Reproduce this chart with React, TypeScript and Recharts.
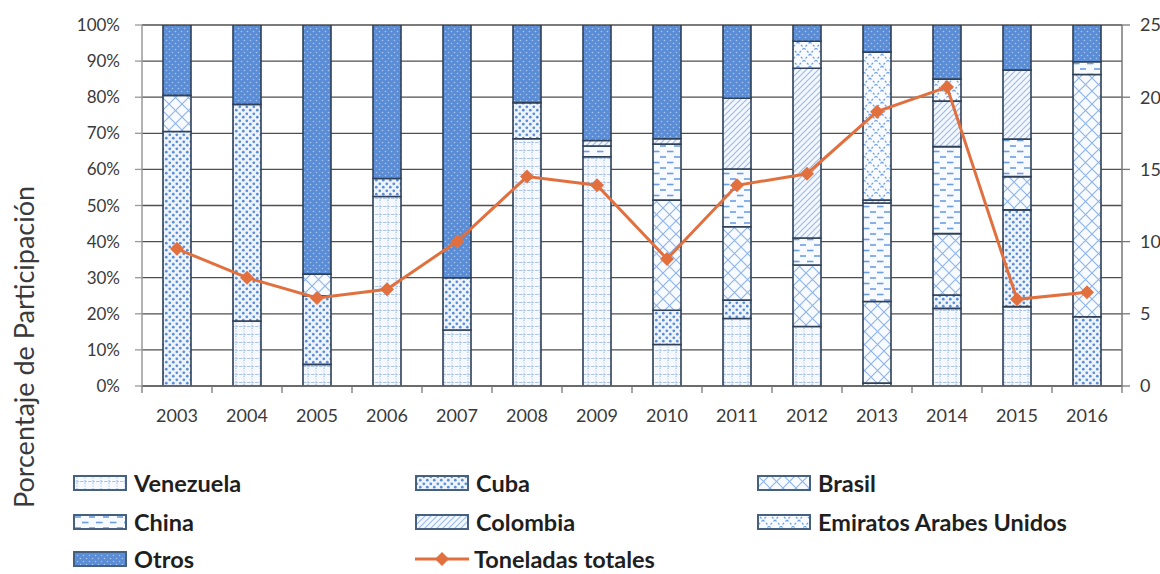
import React from "react";
import { Bar, CartesianGrid, ComposedChart, Line, XAxis, YAxis } from "recharts";

const YEARS = ["2003", "2004", "2005", "2006", "2007", "2008", "2009", "2010", "2011", "2012", "2013", "2014", "2015", "2016"];

// participación por destino (%), de abajo hacia arriba en cada columna
const VENEZUELA = [0, 18, 6, 52.5, 15.5, 68.5, 63.5, 11.5, 18.7, 16.5, 0.8, 21.5, 22, 0];
const CUBA = [70.5, 60, 19, 5, 14.5, 10, 0, 9.5, 5.1, 0, 0, 3.7, 26.8, 19.2];
const BRASIL = [10, 0, 6, 0, 0, 0, 0, 30.5, 20.3, 17, 22.6, 17, 9.2, 67.1];
const CHINA = [0, 0, 0, 0, 0, 0, 3, 15.5, 16, 7.5, 27.3, 24.1, 10.4, 3.5];
const COLOMBIA = [0, 0, 0, 0, 0, 0, 1.5, 1.5, 19.6, 47, 0.8, 12.6, 19.1, 0];
const EMIRATOS = [0, 0, 0, 0, 0, 0, 0, 0, 0, 7.5, 41, 6.1, 0, 0];
const OTROS = [19.5, 22, 69, 42.5, 70, 21.5, 32, 31.5, 20.3, 4.5, 7.5, 15, 12.5, 10.2];

// toneladas totales (eje derecho)
const TONELADAS = [9.5, 7.5, 6.1, 6.7, 10.0, 14.5, 13.9, 8.8, 13.9, 14.7, 19.0, 20.7, 6.0, 6.5];

const PCT_TICKS = [0, 10, 20, 30, 40, 50, 60, 70, 80, 90, 100];
const TON_TICKS = [0, 5, 10, 15, 20, 25];

const SERIES = [
  { key: "venezuela", name: "Venezuela", values: VENEZUELA, fill: "url(#p-venezuela)" },
  { key: "cuba", name: "Cuba", values: CUBA, fill: "url(#p-cuba)" },
  { key: "brasil", name: "Brasil", values: BRASIL, fill: "url(#p-brasil)" },
  { key: "china", name: "China", values: CHINA, fill: "url(#p-china)" },
  { key: "colombia", name: "Colombia", values: COLOMBIA, fill: "url(#p-colombia)" },
  { key: "emiratos", name: "Emiratos Arabes Unidos", values: EMIRATOS, fill: "url(#p-emiratos)" },
  { key: "otros", name: "Otros", values: OTROS, fill: "url(#p-otros)" },
];

const data = YEARS.map((year, i) => {
  const row: Record<string, string | number> = { year, toneladas: TONELADAS[i] };
  SERIES.forEach((s) => {
    row[s.key] = s.values[i];
  });
  return row;
});

const W = 1160;
const H = 574;
const LEFT_AXIS_W = 140;
const RIGHT_AXIS_W = 38;
const MARGIN = { top: 25, right: 0, bottom: 148, left: 2 };
const HALF_BAND = (W - MARGIN.left - LEFT_AXIS_W - RIGHT_AXIS_W) / YEARS.length / 2;

const FONT = "Lato, 'Open Sans', sans-serif";
const TEXT = "#3a3a3a";
const ORANGE = "#e2703f";
const BAR_EDGE = "#2f4057";

function Patterns() {
  return (
    <defs>
      <pattern id="p-venezuela" width="8" height="8" patternUnits="userSpaceOnUse">
        <rect width="8" height="8" fill="#f6f9fe" />
        <line x1="4" y1="0" x2="4" y2="8" stroke="#8eb2e6" strokeWidth="1" strokeDasharray="1 1.5" />
        <line x1="0" y1="6.5" x2="8" y2="6.5" stroke="#a9c5ee" strokeWidth="1" strokeDasharray="2.5 1" />
      </pattern>
      <pattern id="p-cuba" width="7" height="7" patternUnits="userSpaceOnUse">
        <rect width="7" height="7" fill="#eef4fd" />
        <circle cx="1.8" cy="1.8" r="1.35" fill="#5a8cd6" />
        <circle cx="5.3" cy="5.2" r="1.35" fill="#5a8cd6" />
      </pattern>
      <pattern id="p-brasil" width="13" height="13" patternUnits="userSpaceOnUse">
        <rect width="13" height="13" fill="#f7faff" />
        <path d="M0 0 L13 13 M13 0 L0 13" stroke="#8fb4e9" strokeWidth="1.1" />
      </pattern>
      <pattern id="p-china" width="14" height="11" patternUnits="userSpaceOnUse">
        <rect width="14" height="11" fill="#f7faff" />
        <line x1="2" y1="3" x2="8" y2="3" stroke="#6d9de2" strokeWidth="1.6" />
        <line x1="9" y1="8.5" x2="14" y2="8.5" stroke="#6d9de2" strokeWidth="1.6" />
        <line x1="0" y1="8.5" x2="1.5" y2="8.5" stroke="#6d9de2" strokeWidth="1.6" />
      </pattern>
      <pattern id="p-colombia" width="6" height="6" patternUnits="userSpaceOnUse">
        <rect width="6" height="6" fill="#f4f8fe" />
        <path d="M-1 7 L7 -1 M-1 1 L1 -1 M5 7 L7 5" stroke="#9bbdea" strokeWidth="1.2" />
      </pattern>
      <pattern id="p-emiratos" width="12" height="12" patternUnits="userSpaceOnUse">
        <rect width="12" height="12" fill="#f7faff" />
        <path d="M0 0 L12 12 M12 0 L0 12" stroke="#6f9fe4" strokeWidth="1.2" strokeDasharray="2.2 2" />
      </pattern>
      <pattern id="p-otros" width="6" height="6" patternUnits="userSpaceOnUse">
        <rect width="6" height="6" fill="#5a8dd6" />
        <circle cx="1.5" cy="1.5" r="0.8" fill="#a6c4ee" />
        <circle cx="4.5" cy="4.5" r="0.8" fill="#a6c4ee" />
      </pattern>
    </defs>
  );
}

function YearTick(props: any) {
  const { x, y, payload, index } = props;
  return (
    <g>
      <line x1={x - HALF_BAND} x2={x - HALF_BAND} y1={y} y2={y + 7} stroke="#777" strokeWidth={1.3} />
      {index === YEARS.length - 1 && (
        <line x1={x + HALF_BAND} x2={x + HALF_BAND} y1={y} y2={y + 7} stroke="#777" strokeWidth={1.3} />
      )}
      <text x={x} y={y + 36} textAnchor="middle" fill={TEXT} fontSize={18} fontFamily={FONT}>
        {payload.value}
      </text>
    </g>
  );
}

function Diamond(props: any) {
  const { cx, cy } = props;
  if (cx == null || cy == null) return null;
  const r = 7;
  return <path d={`M${cx} ${cy - r} L${cx + r} ${cy} L${cx} ${cy + r} L${cx - r} ${cy} Z`} fill={ORANGE} />;
}

function AxisTitle() {
  return (
    <text
      x={34}
      y={347}
      transform="rotate(-90, 34, 347)"
      textAnchor="middle"
      fill={TEXT}
      fontSize={27}
      fontFamily={FONT}
    >
      Porcentaje de Participación
    </text>
  );
}

const LEGEND_ROWS = [483, 522, 559];
const LEGEND_COLS = [73, 415, 757];
const LEGEND_ITEMS = [
  ...SERIES.slice(0, 3).map((s, i) => ({ ...s, col: i, row: 0 })),
  ...SERIES.slice(3, 6).map((s, i) => ({ ...s, col: i, row: 1 })),
  { ...SERIES[6], col: 0, row: 2 },
];

const legendText: React.CSSProperties = {
  position: "absolute",
  height: 22,
  lineHeight: "22px",
  display: "flex",
  alignItems: "center",
  fontFamily: FONT,
  fontWeight: 700,
  fontSize: 23.5,
  color: "#1f1f1f",
  whiteSpace: "nowrap",
};

function LegendBlock() {
  return (
    <div style={{ position: "absolute", left: 0, top: 0, width: W, height: H, pointerEvents: "none" }}>
      {LEGEND_ITEMS.map((it) => (
        <div key={it.key} style={{ ...legendText, left: LEGEND_COLS[it.col], top: LEGEND_ROWS[it.row] - 11 }}>
          <svg width={54} height={16} style={{ marginRight: 7 }}>
            <rect x={1} y={1} width={52} height={14} fill={it.fill} stroke="#45617f" strokeWidth={2} />
          </svg>
          {it.name}
        </div>
      ))}
      <div style={{ ...legendText, left: LEGEND_COLS[1], top: LEGEND_ROWS[2] - 11 }}>
        <svg width={54} height={16} style={{ marginRight: 5 }}>
          <line x1={0} x2={54} y1={8} y2={8} stroke={ORANGE} strokeWidth={3} />
          <path d="M27 1 L34 8 L27 15 L20 8 Z" fill={ORANGE} />
        </svg>
        Toneladas totales
      </div>
    </div>
  );
}

export default function App() {
  return (
    <div style={{ position: "absolute", left: 0, top: 0, width: W, height: H, background: "#fff", overflow: "hidden" }}>
      <ComposedChart width={W} height={H} data={data} margin={MARGIN} barSize={28}>
        <Patterns />
        <CartesianGrid yAxisId="pct" vertical={false} stroke="#4f4f4f" strokeWidth={1.3} />
        <XAxis
          dataKey="year"
          height={40}
          tick={<YearTick />}
          tickLine={false}
          tickSize={0}
          tickMargin={0}
          interval={0}
          axisLine={{ stroke: "#666", strokeWidth: 1.5 }}
        />
        <YAxis
          yAxisId="pct"
          orientation="left"
          width={LEFT_AXIS_W}
          domain={[0, 100]}
          allowDataOverflow
          ticks={PCT_TICKS}
          interval={0}
          tickFormatter={(v: number) => `${v}%`}
          tickSize={7}
          tickMargin={15}
          tick={{ fill: TEXT, fontSize: 17, fontFamily: FONT }}
          tickLine={{ stroke: "#999", strokeWidth: 1.3 }}
          axisLine={{ stroke: "#999", strokeWidth: 1.5 }}
          label={<AxisTitle />}
        />
        <YAxis
          yAxisId="ton"
          orientation="right"
          width={RIGHT_AXIS_W}
          domain={[0, 25]}
          ticks={TON_TICKS}
          interval={0}
          tickSize={8}
          tickMargin={10}
          tick={{ fill: TEXT, fontSize: 18, fontFamily: FONT, textAnchor: "start" }}
          tickLine={{ stroke: "#777", strokeWidth: 1.3 }}
          axisLine={{ stroke: "#777", strokeWidth: 1.5 }}
        />
        {SERIES.map((s) => (
          <Bar
            key={s.key}
            yAxisId="pct"
            dataKey={s.key}
            name={s.name}
            stackId="pais"
            fill={s.fill}
            stroke={BAR_EDGE}
            strokeWidth={1.6}
            isAnimationActive={false}
          />
        ))}
        <Line
          yAxisId="ton"
          dataKey="toneladas"
          name="Toneladas totales"
          stroke={ORANGE}
          strokeWidth={3}
          dot={<Diamond />}
          activeDot={false}
          isAnimationActive={false}
        />
      </ComposedChart>
      <LegendBlock />
    </div>
  );
}
